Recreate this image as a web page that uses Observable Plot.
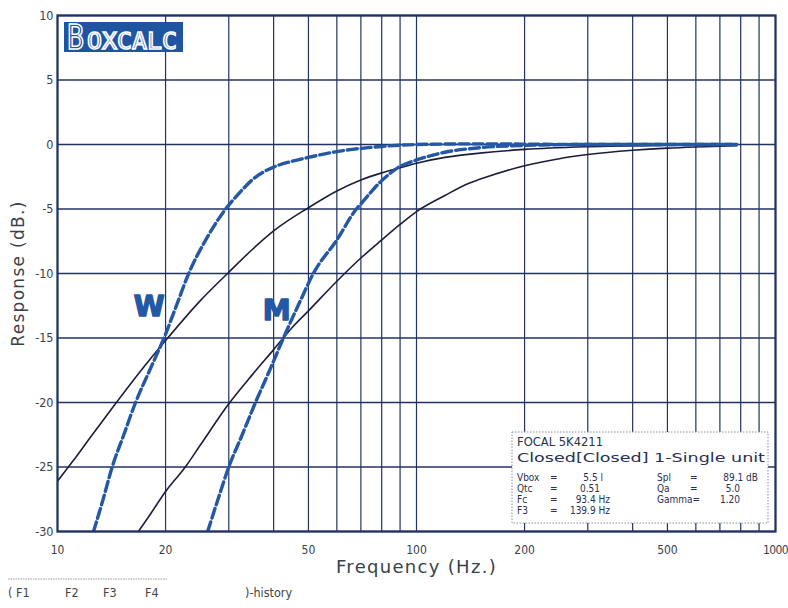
<!DOCTYPE html>
<html>
<head>
<meta charset="utf-8">
<script src="https://cdn.jsdelivr.net/npm/d3@7"></script>
<script src="https://cdn.jsdelivr.net/npm/@observablehq/plot@0.6"></script>
<style>
  html, body { margin: 0; padding: 0; background: #fff; }
  #chart { width: 788px; height: 608px; }
</style>
</head>
<body>
<div id="chart"></div>
<script>
// ---- data ----
const xTickLabels = [10, 20, 50, 100, 200, 500, 1000];
const xGridLines = [10, 20, 30, 40, 50, 60, 70, 80, 90, 100, 200, 300, 400, 500, 600, 700, 800, 900, 1000];
const yTicks = [-30, -25, -20, -15, -10, -5, 0, 5, 10];

// W driver, closed box (solid)
const wSolidHz = [10, 11, 12.5, 14.5, 17, 20, 25, 30, 35, 40, 50, 60, 70, 80, 90, 100, 120, 150, 200, 300, 500, 780];
const wSolidDb = [-26.1, -24.6, -22.5, -20.1, -17.6, -15.2, -12.1, -9.9, -8.1, -6.7, -4.9, -3.6, -2.75, -2.2, -1.8, -1.45, -1.0, -0.67, -0.38, -0.17, -0.06, -0.02];
// W driver (dashed)
const wDashHz = [12.6, 13.4, 14.2, 15.3, 16.5, 18.2, 19.8, 21.5, 23.2, 26, 29.4, 32, 35, 40, 45, 50, 60, 70, 80, 100, 150, 200, 300, 780];
const wDashDb = [-30, -27.5, -25, -22.5, -20, -17.3, -15, -12.4, -10, -7.3, -5, -3.8, -2.7, -1.75, -1.3, -1.0, -0.55, -0.3, -0.15, 0, 0.05, 0.03, 0, 0];
// M driver, closed box (solid)
const mSolidHz = [16.8, 18, 20, 22.7, 25, 30, 35, 40, 45, 50, 60, 70, 80, 90, 100, 120, 140, 150, 200, 250, 300, 400, 500, 600, 780];
const mSolidDb = [-30, -28.8, -26.9, -25, -23.3, -20.1, -17.8, -15.9, -14.2, -12.9, -10.6, -8.8, -7.4, -6.2, -5.2, -3.95, -3.0, -2.7, -1.65, -1.1, -0.78, -0.45, -0.28, -0.19, -0.1];
// M driver (dashed)
const mDashHz = [26.2, 28, 30, 32.7, 35.6, 39, 42.6, 47.5, 51.6, 60, 68, 70, 80, 90, 100, 120, 150, 200, 300, 780];
const mDashDb = [-30, -27.5, -25, -22.5, -20, -17.5, -15, -12.1, -10, -7.4, -5, -4.6, -2.8, -1.7, -1.2, -0.6, -0.25, -0.07, 0, 0];

// curve labels
const labelText = ["W", "M"];
const labelHz = [18.0, 40.8];
const labelDb = [-12.6, -12.9];

// info box text
const infoTitle = ["FOCAL 5K4211", "Closed[Closed] 1-Single unit"];
const infoLeftNames = ["Vbox", "Qtc", "Fc", "F3"];
const infoLeftValues = ["5.5 l", "0.51", "93.4 Hz", "139.9 Hz"];
const infoRightNames = ["Spl", "Qa", "Gamma="];
const infoRightValues = ["89.1 dB", "5.0", "1.20"];
const footerKeys = ["( F1", "F2", "F3", "F4"];
const footerHistory = ")-history";

// ---- build ----
const toRows = (hz, db) => hz.map((f, i) => ({f, db: db[i]}));
const wSolid = toRows(wSolidHz, wSolidDb);
const wDash = toRows(wDashHz, wDashDb);
const mSolid = toRows(mSolidHz, mSolidDb);
const mDash = toRows(mDashHz, mDashDb);
const labels = labelText.map((t, i) => ({t, f: labelHz[i], db: labelDb[i]}));

const gridC = "#223363";
const solidC = "#1a1e3a";
const dashC = "#2458a5";
const textC = "#3a3f4c";
const condensed = "DejaVu Sans Condensed, DejaVu Sans, sans-serif";

const chart = Plot.plot({
  width: 788,
  height: 608,
  marginTop: 15,
  marginBottom: 77,
  marginLeft: 57,
  marginRight: 13,
  x: {type: "log", domain: [10, 1000], axis: null},
  y: {domain: [-30, 10], axis: null},
  style: {fontFamily: "DejaVu Sans, sans-serif", background: "#fff", overflow: "visible"},
  marks: [
    Plot.ruleX(xGridLines, {stroke: gridC, strokeWidth: 1.2}),
    Plot.ruleY(yTicks, {stroke: gridC, strokeWidth: 1.5}),
    Plot.line(wSolid, {x: "f", y: "db", stroke: solidC, strokeWidth: 1.6, curve: "monotone-x", clip: true}),
    Plot.line(mSolid, {x: "f", y: "db", stroke: solidC, strokeWidth: 1.6, curve: "monotone-x", clip: true}),
    Plot.line(wDash, {x: "f", y: "db", stroke: dashC, strokeWidth: 3.4, strokeDasharray: "10,4", curve: "monotone-x", clip: true}),
    Plot.line(mDash, {x: "f", y: "db", stroke: dashC, strokeWidth: 3.4, strokeDasharray: "10,4", curve: "monotone-x", clip: true}),
    Plot.text(labels, {x: "f", y: "db", text: "t", fill: dashC, stroke: dashC, strokeWidth: 1.4, fontSize: 28, fontWeight: "bold"}),
    // tick labels
    Plot.text(xTickLabels, {x: d => d, text: d => String(d), frameAnchor: "bottom", textAnchor: "middle", lineAnchor: "middle", dy: 19, fontSize: 12, fontFamily: condensed, fill: textC}),
    Plot.text(yTicks, {y: d => d, text: d => String(d), frameAnchor: "left", textAnchor: "end", lineAnchor: "middle", dx: -4, fontSize: 12.5, fontFamily: condensed, fill: textC}),
    Plot.frame({stroke: gridC, strokeWidth: 2.2}),
    Plot.text(["Frequency (Hz.)"], {frameAnchor: "bottom", textAnchor: "middle", lineAnchor: "middle", dy: 36, fontSize: 18, fill: textC}),
    Plot.text(["Response (dB.)"], {frameAnchor: "left", textAnchor: "middle", lineAnchor: "middle", dx: -39, rotate: -90, fontSize: 17, fill: textC})
  ]
});

document.getElementById("chart").appendChild(chart);

// letter spacing on the axis titles, as in the plotter font of the reference
d3.select(chart).selectAll("text")
  .filter(function () { return this.textContent === "Frequency (Hz.)" || this.textContent === "Response (dB.)"; })
  .attr("letter-spacing", 1.3);
// tighten the last x label so it stays inside the picture
d3.select(chart).selectAll("text")
  .filter(function () { return this.textContent === "1000"; })
  .attr("letter-spacing", -0.6);

// ---- decorations (logo, info box, footer) ----
const svg = d3.select(chart);
const deco = svg.append("g")
  .attr("font-family", condensed)
  .attr("text-anchor", "start");

// logo
const logo = deco.append("g");
logo.append("rect").attr("x", 64).attr("y", 22).attr("width", 119).attr("height", 30).attr("fill", "#1f54a0");
logo.append("text").attr("x", 67).attr("y", 49).attr("font-family", "DejaVu Sans Mono, monospace")
  .attr("font-size", 33).attr("fill", "#1f54a0").attr("stroke", "#fff").attr("stroke-width", 1.6)
  .attr("textLength", 17).attr("lengthAdjust", "spacingAndGlyphs").text("B");
logo.append("text").attr("x", 87).attr("y", 49).attr("font-family", "DejaVu Sans Mono, monospace")
  .attr("font-size", 23).attr("fill", "#1f54a0").attr("stroke", "#fff").attr("stroke-width", 1.5)
  .attr("textLength", 90).attr("lengthAdjust", "spacingAndGlyphs").text("OXCALC");

// info box
const box = deco.append("g").attr("fill", "#2a3050").attr("font-size", 10);
box.append("rect").attr("x", 512).attr("y", 432).attr("width", 256).attr("height", 91)
  .attr("fill", "#fff").attr("stroke", "#8a8f9c").attr("stroke-width", 1).attr("stroke-dasharray", "1.5,1.5");
box.append("text").attr("x", 517).attr("y", 446).attr("font-size", 12).attr("textLength", 86)
  .attr("lengthAdjust", "spacingAndGlyphs").text(infoTitle[0]);
box.append("text").attr("x", 517).attr("y", 462).attr("font-size", 12).attr("font-family", "DejaVu Sans, sans-serif")
  .attr("textLength", 248).attr("lengthAdjust", "spacingAndGlyphs").text(infoTitle[1]);
const rowY = [480.5, 491.5, 502.5, 513.5];
const leftEnds = [603, 600, 610, 610];
infoLeftNames.forEach((n, i) => {
  box.append("text").attr("x", 517).attr("y", rowY[i]).text(n);
  box.append("text").attr("x", 550).attr("y", rowY[i]).text("=");
  box.append("text").attr("x", leftEnds[i]).attr("y", rowY[i]).attr("text-anchor", "end").text(infoLeftValues[i]);
});
const rightEnds = [758, 740, 740];
infoRightNames.forEach((n, i) => {
  box.append("text").attr("x", 657).attr("y", rowY[i]).text(n);
  if (i < 2) box.append("text").attr("x", 690).attr("y", rowY[i]).text("=");
  box.append("text").attr("x", rightEnds[i]).attr("y", rowY[i]).attr("text-anchor", "end").text(infoRightValues[i]);
});

// footer
const foot = deco.append("g").attr("fill", "#444").attr("font-size", 12.5);
foot.append("line").attr("x1", 8).attr("x2", 168).attr("y1", 579).attr("y2", 579)
  .attr("stroke", "#9a9a9a").attr("stroke-width", 1).attr("stroke-dasharray", "1.5,1");
const footX = [8, 65, 103, 145];
footerKeys.forEach((k, i) => foot.append("text").attr("x", footX[i]).attr("y", 597).text(k));
foot.append("text").attr("x", 245).attr("y", 597).text(footerHistory);
</script>
</body>
</html>
